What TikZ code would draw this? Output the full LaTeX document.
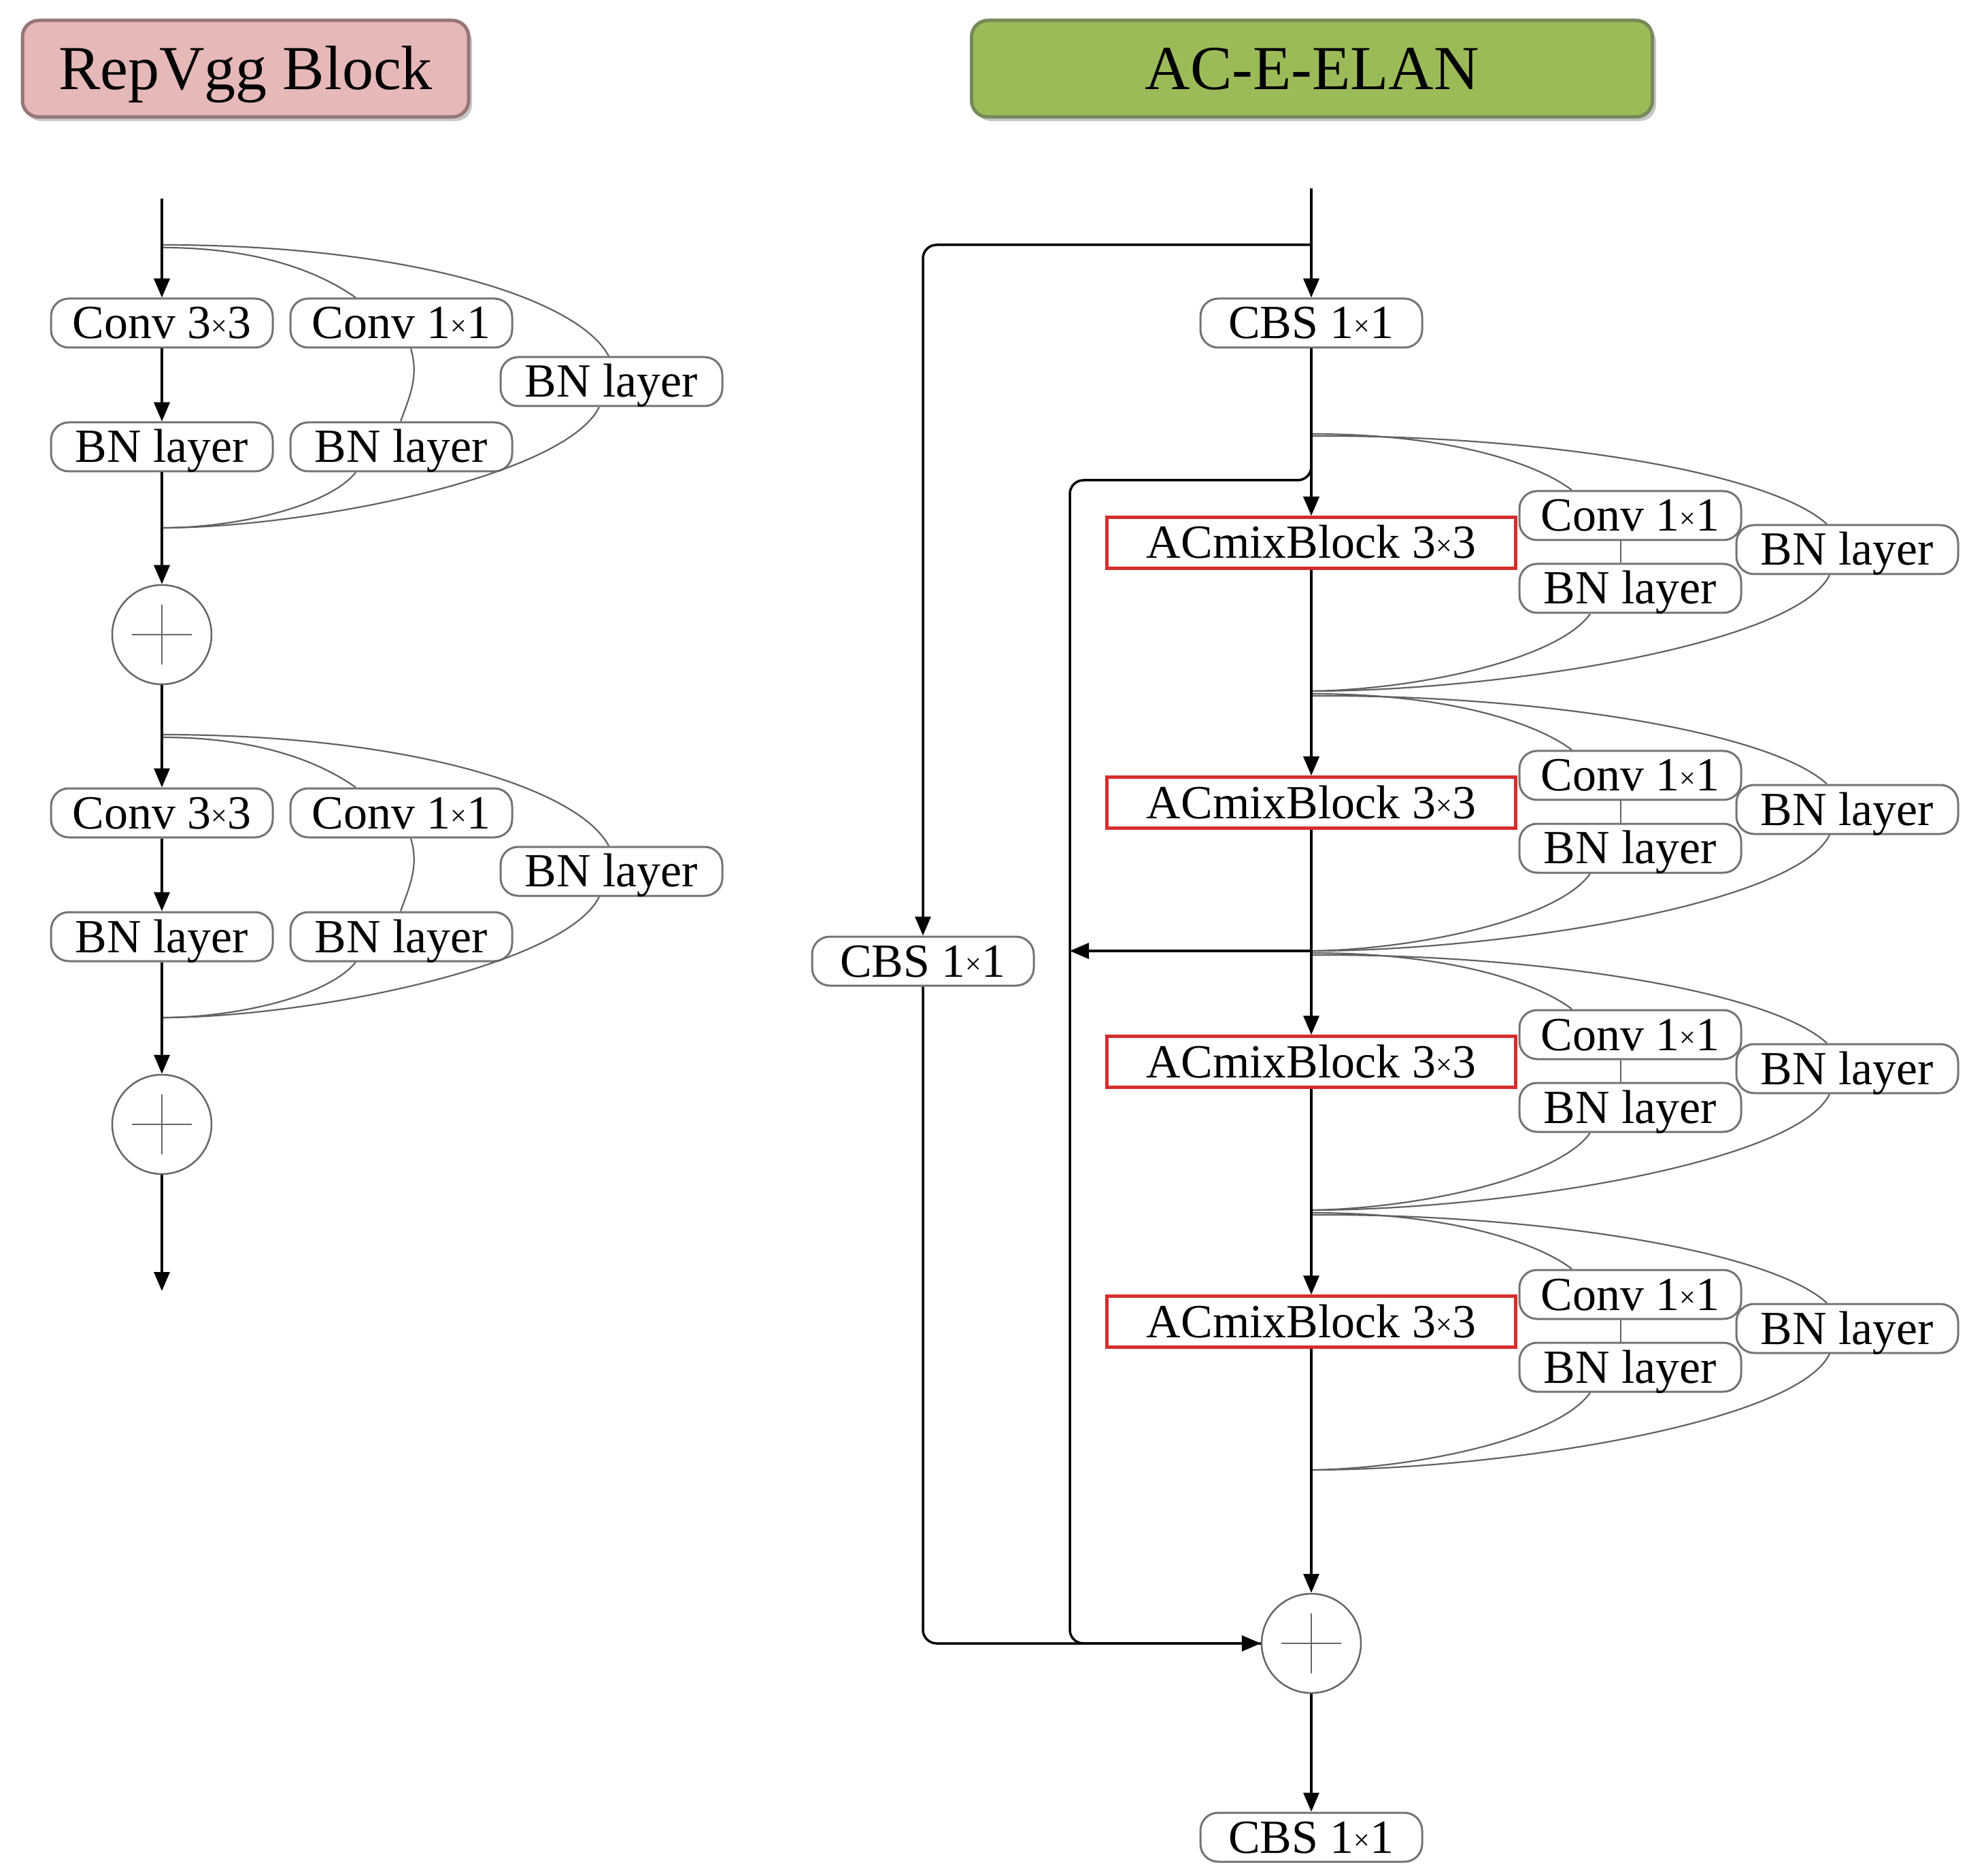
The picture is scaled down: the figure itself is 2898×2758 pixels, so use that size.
\documentclass[tikz,border=0pt]{standalone}
\usepackage{fontspec}
\setmainfont{Liberation Serif}
\usetikzlibrary{arrows.meta,calc}
\newcommand{\smx}{{\fontsize{12pt}{12pt}\selectfont\raisebox{1.2pt}{×}}}
\definecolor{pinkfill}{RGB}{230,184,183}
\definecolor{pinkdraw}{RGB}{150,118,118}
\definecolor{greenfill}{RGB}{155,187,89}
\definecolor{greendraw}{RGB}{118,138,88}
\definecolor{boxred}{RGB}{215,45,45}
\begin{document}
\begin{tikzpicture}[x=0.1mm,y=-0.1mm,
  box/.style={draw=black!55, line width=0.3mm, rounded corners=2.6mm,
    minimum width=32.6mm, minimum height=7.2mm, inner sep=0pt,
    font=\fontsize{19.9pt}{22pt}\selectfont, text height=4.6mm, text depth=0pt},
  redbox/.style={draw=boxred, line width=0.45mm,
    minimum width=60.1mm, minimum height=7.5mm, inner sep=0pt,
    font=\fontsize{19.9pt}{22pt}\selectfont, text height=4.6mm, text depth=0pt},
  titlebox/.style={line width=0.5mm, rounded corners=2.4mm, inner sep=0pt,
    minimum height=14.2mm, font=\fontsize{26.2pt}{30pt}\selectfont,
    text height=6.1mm, text depth=0pt},
  main/.style={line width=0.35mm, -{Triangle[length=2.8mm,width=2.3mm]}},
  mainline/.style={line width=0.35mm},
  thin/.style={line width=0.22mm, draw=black!62},
  plusnode/.style={circle, draw=black!60, line width=0.25mm, minimum size=14.6mm, inner sep=0pt},
  cross/.style={line width=0.22mm, draw=black!60}
]
\useasboundingbox (0,0) rectangle (2898,2758);

% ---------- titles ----------
\fill[black!22, rounded corners=2.4mm] (37,37) rectangle (694,178);
\node[titlebox, draw=pinkdraw, fill=pinkfill, minimum width=65.6mm] (t1) at (361,101) {RepVgg Block};
\fill[black!22, rounded corners=2.4mm] (1433,37) rectangle (2435,178);
\node[titlebox, draw=greendraw, fill=greenfill, minimum width=100.1mm] (t2) at (1929,101) {AC-E-ELAN};

% ---------- RepVgg block (left) ----------
\foreach \k/\yc in {a/475, b/1195}{
  \node[box] (c3\k) at (238,\yc) {Conv 3\smx3};
  \node[box] (c1\k) at (590,\yc) {Conv 1\smx1};
  \node[box] (bnr\k) at (899,{\yc+86}) {BN layer};
  \node[box] (bnl\k) at (238,{\yc+182}) {BN layer};
  \node[box] (bnm\k) at (590,{\yc+182}) {BN layer};
  \node[plusnode] (p\k) at (238,{\yc+458}) {};
  \coordinate (br\k) at (238,{\yc-111});
  \coordinate (mg\k) at (238,{\yc+301});
  \draw[cross] ($(p\k.center)+(-44,0)$) -- ($(p\k.center)+(44,0)$);
  \draw[cross] ($(p\k.center)+(0,-44)$) -- ($(p\k.center)+(0,44)$);
  % curves
  \draw[thin] (br\k) .. controls +(160,0) and +(-40,-28) .. ([xshift=-6.7mm]c1\k.north);
  \draw[thin] ([yshift=0.4mm]br\k) .. controls +(362,0) and +(-45,-85) .. ([xshift=-0.4mm]bnr\k.north);
  \draw[thin] ([xshift=1.4mm]c1\k.south) .. controls +(12,40) and +(14,-38) .. ([xshift=-0.1mm]bnm\k.north);
  \draw[thin] ([xshift=-6.7mm]bnm\k.south) .. controls +(-40,50) and +(110,0) .. (mg\k);
  \draw[thin] ([xshift=-1.8mm]bnr\k.south) .. controls +(-51,103) and +(212,0) .. (mg\k);
  % main arrows
  \draw[main] (c3\k.south) -- (bnl\k.north);
  \draw[main] (bnl\k.south) -- (p\k.north);
}
\coordinate (inL) at (238,292);
\coordinate (outL) at (238,1898);
\draw[main] (inL) -- (c3a.north);
\draw[main] (pa.south) -- (c3b.north);
\draw[main] (pb.south) -- (outL);

% ---------- AC-E-ELAN (right) ----------
\node[box] (cbs1) at (1928,475) {CBS 1\smx1};
\node[box] (cbsL) at (1357,1413) {CBS 1\smx1};
\node[box] (cbsO) at (1928,2701) {CBS 1\smx1};
\node[plusnode] (pR) at (1928,2416) {};
\draw[cross] ($(pR.center)+(-44,0)$) -- ($(pR.center)+(44,0)$);
\draw[cross] ($(pR.center)+(0,-44)$) -- ($(pR.center)+(0,44)$);

\foreach \i/\yc in {1/798, 2/1180, 3/1561, 4/1943}{
  \node[redbox] (a\i) at (1928,\yc) {ACmixBlock 3\smx3};
  \node[box] (c\i) at (2397,{\yc-40}) {Conv 1\smx1};
  \node[box] (s\i) at (2397,{\yc+67}) {BN layer};
  \node[box] (r\i) at (2716,{\yc+10}) {BN layer};
  \coordinate (b\i) at (1928,{\yc-160});
  \coordinate (m\i) at (1928,{\yc+218});
  \draw[thin] (b\i) .. controls +(222,0) and +(-41,-32) .. ([xshift=-8.6mm]c\i.north);
  \draw[thin] ([yshift=-0.3mm]b\i) .. controls +(322,-2) and +(-86,-79) .. ([xshift=-3mm]r\i.north);
  \draw[thin] ([xshift=-1.4mm]c\i.south) -- ([xshift=-1.4mm]s\i.north);
  \draw[thin] ([xshift=-5.9mm]s\i.south) .. controls +(-48,68) and +(152,-2) .. (m\i);
  \draw[thin] ([xshift=-2.6mm]r\i.south) .. controls +(-50,103) and +(272,0) .. (m\i);
}
\coordinate (inR) at (1928,277);
\coordinate (brT) at (1928,360);
\coordinate (brI) at (1928,660);
\coordinate (innerTop) at (1573,706);
\draw[main] (inR) -- (cbs1.north);
\draw[main, rounded corners=2mm] (brT) -| (cbsL.north);
\draw[main] (cbs1.south) -- (a1.north);
\draw[main] (a1.south) -- (a2.north);
\draw[main] (a2.south) -- (a3.north);
\draw[main] (a3.south) -- (a4.north);
\draw[main] (a4.south) -- (pR.north);
\draw[mainline, rounded corners=2mm] (brI) |- (innerTop) |- (pR.west);
\draw[main, rounded corners=2mm] (cbsL.south) |- (pR.west);
\draw[main] (m2) -- (m2 -| innerTop);
\draw[main] (pR.south) -- (cbsO.north);
\end{tikzpicture}
\end{document}
